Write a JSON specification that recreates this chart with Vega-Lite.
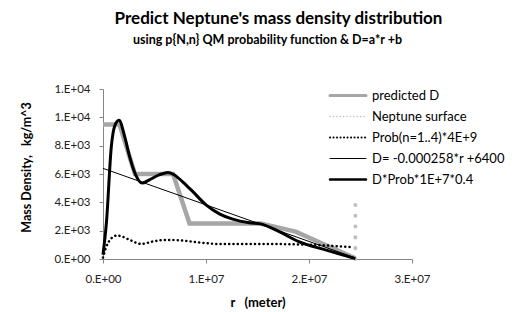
{
  "$schema": "https://vega.github.io/schema/vega-lite/v6.json",
  "width": 309,
  "height": 170,
  "autosize": "none",
  "padding": {"left": 103, "top": 89, "right": 110, "bottom": 53},
  "background": "white",
  "config": {
    "view": {"stroke": null},
    "font": "Lato"
  },
  "title": {
    "text": "Predict Neptune's mass density distribution",
    "subtitle": "using p{N,n} QM probability function & D=a*r +b",
    "font": "Lato",
    "fontSize": 17,
    "fontWeight": "bold",
    "color": "#000",
    "subtitleFont": "Lato",
    "subtitleFontSize": 12.5,
    "subtitleFontWeight": "bold",
    "subtitleColor": "#000",
    "subtitlePadding": 6,
    "anchor": "middle",
    "offset": 36,
    "dx": 21,
    "encode": {"subtitle": {"update": {"dx": {"value": 10}}}}
  },
  "data": {
    "values": [
      {"series": "predicted D", "k": 0, "r": 0, "D": 9500},
      {"series": "predicted D", "k": 1, "r": 1600000, "D": 9500},
      {"series": "predicted D", "k": 2, "r": 3100000, "D": 6000},
      {"series": "predicted D", "k": 3, "r": 6800000, "D": 6000},
      {"series": "predicted D", "k": 4, "r": 8400000, "D": 2500},
      {"series": "predicted D", "k": 5, "r": 15300000, "D": 2500},
      {"series": "predicted D", "k": 6, "r": 18700000, "D": 1930},
      {"series": "predicted D", "k": 7, "r": 21600000, "D": 990},
      {"series": "predicted D", "k": 8, "r": 24500000, "D": 50},

      {"series": "Neptune surface", "k": 0, "r": 24500000, "D": 0},
      {"series": "Neptune surface", "k": 1, "r": 24500000, "D": 3850},

      {"series": "Prob(n=1..4)*4E+9", "k": 0, "r": 0, "D": 100},
      {"series": "Prob(n=1..4)*4E+9", "k": 1, "r": 330000, "D": 870},
      {"series": "Prob(n=1..4)*4E+9", "k": 2, "r": 810000, "D": 1460},
      {"series": "Prob(n=1..4)*4E+9", "k": 3, "r": 1300000, "D": 1650},
      {"series": "Prob(n=1..4)*4E+9", "k": 4, "r": 1700000, "D": 1620},
      {"series": "Prob(n=1..4)*4E+9", "k": 5, "r": 2580000, "D": 1350},
      {"series": "Prob(n=1..4)*4E+9", "k": 6, "r": 3700000, "D": 1060},
      {"series": "Prob(n=1..4)*4E+9", "k": 7, "r": 4800000, "D": 1230},
      {"series": "Prob(n=1..4)*4E+9", "k": 8, "r": 6100000, "D": 1350},
      {"series": "Prob(n=1..4)*4E+9", "k": 9, "r": 7700000, "D": 1300},
      {"series": "Prob(n=1..4)*4E+9", "k": 10, "r": 9400000, "D": 1160},
      {"series": "Prob(n=1..4)*4E+9", "k": 11, "r": 11300000, "D": 1060},
      {"series": "Prob(n=1..4)*4E+9", "k": 12, "r": 15800000, "D": 1060},
      {"series": "Prob(n=1..4)*4E+9", "k": 13, "r": 20600000, "D": 990},
      {"series": "Prob(n=1..4)*4E+9", "k": 14, "r": 24200000, "D": 830},

      {"series": "D= -0.000258*r +6400", "k": 0, "r": 0, "D": 6400},
      {"series": "D= -0.000258*r +6400", "k": 1, "r": 24500000, "D": 79},

      {"series": "D*Prob*1E+7*0.4", "k": 0, "r": 0, "D": 300},
      {"series": "D*Prob*1E+7*0.4", "k": 1, "r": 330000, "D": 2550},
      {"series": "D*Prob*1E+7*0.4", "k": 2, "r": 810000, "D": 7950},
      {"series": "D*Prob*1E+7*0.4", "k": 3, "r": 1130000, "D": 9370},
      {"series": "D*Prob*1E+7*0.4", "k": 4, "r": 1550000, "D": 9790},
      {"series": "D*Prob*1E+7*0.4", "k": 5, "r": 2100000, "D": 8660},
      {"series": "D*Prob*1E+7*0.4", "k": 6, "r": 2580000, "D": 7240},
      {"series": "D*Prob*1E+7*0.4", "k": 7, "r": 3160000, "D": 5950},
      {"series": "D*Prob*1E+7*0.4", "k": 8, "r": 3800000, "D": 5360},
      {"series": "D*Prob*1E+7*0.4", "k": 9, "r": 4500000, "D": 5590},
      {"series": "D*Prob*1E+7*0.4", "k": 10, "r": 5500000, "D": 5950},
      {"series": "D*Prob*1E+7*0.4", "k": 11, "r": 6300000, "D": 6110},
      {"series": "D*Prob*1E+7*0.4", "k": 12, "r": 6900000, "D": 5950},
      {"series": "D*Prob*1E+7*0.4", "k": 13, "r": 7700000, "D": 5470},
      {"series": "D*Prob*1E+7*0.4", "k": 14, "r": 8700000, "D": 4770},
      {"series": "D*Prob*1E+7*0.4", "k": 15, "r": 10000000, "D": 3820},
      {"series": "D*Prob*1E+7*0.4", "k": 16, "r": 11300000, "D": 3190},
      {"series": "D*Prob*1E+7*0.4", "k": 17, "r": 12600000, "D": 2810},
      {"series": "D*Prob*1E+7*0.4", "k": 18, "r": 14200000, "D": 2560},
      {"series": "D*Prob*1E+7*0.4", "k": 19, "r": 15300000, "D": 2480},
      {"series": "D*Prob*1E+7*0.4", "k": 20, "r": 17100000, "D": 1930},
      {"series": "D*Prob*1E+7*0.4", "k": 21, "r": 19000000, "D": 1220},
      {"series": "D*Prob*1E+7*0.4", "k": 22, "r": 21600000, "D": 640},
      {"series": "D*Prob*1E+7*0.4", "k": 23, "r": 24500000, "D": 30}
    ]
  },
  "encoding": {
    "x": {
      "field": "r", "type": "quantitative",
      "scale": {"domain": [0, 30000000], "nice": false},
      "axis": {
        "values": [0, 10000000, 20000000, 30000000],
        "labelExpr": "replace(format(datum.value, '.0e'), 'e+', '.E+0')",
        "labelFlush": false,
        "grid": false,
        "domainColor": "#868686", "tickColor": "#868686", "tickSize": 4,
        "labelFont": "Lato", "labelFontSize": 11.5, "labelColor": "#222", "labelPadding": 10,
        "title": "r\u00a0\u00a0\u00a0(meter)", "titleFont": "Lato", "titleFontSize": 13, "titleFontWeight": "bold",
        "titleColor": "#000", "titlePadding": 12
      }
    },
    "y": {
      "field": "D", "type": "quantitative",
      "scale": {"domain": [0, 12000], "nice": false},
      "axis": {
        "values": [0, 2000, 4000, 6000, 8000, 10000, 12000],
        "labelExpr": "replace(format(datum.value, '.0e'), 'e+', '.E+0')",
        "labelFlush": false,
        "grid": false,
        "domainColor": "#868686", "tickColor": "#868686", "tickSize": 4,
        "labelFont": "Lato", "labelFontSize": 11.5, "labelColor": "#222", "labelPadding": 9,
        "title": "Mass Density,\u00a0\u00a0\u00a0kg/m^3", "titleFont": "Lato", "titleFontSize": 12.5, "titleFontWeight": "bold",
        "titleColor": "#000", "titlePadding": 20, "titleY": 78
      }
    },
    "order": {"field": "k", "type": "quantitative"},
    "color": {
      "field": "series", "type": "nominal",
      "scale": {
        "domain": ["predicted D", "Neptune surface", "Prob(n=1..4)*4E+9", "D= -0.000258*r +6400", "D*Prob*1E+7*0.4"],
        "range": ["#a6a6a6", "#bfbfbf", "#000000", "#000000", "#000000"]
      },
      "legend": {
        "orient": "none", "legendX": 238.5, "legendY": 0,
        "title": null, "padding": 0,
        "symbolType": "M-18,0H18", "symbolSize": 4,
        "labelOffset": 17.5, "labelFont": "Lato", "labelFontSize": 13, "labelColor": "#000",
        "rowPadding": 7,
        "encode": {"symbols": {"update": {
          "strokeCap": {"value": "round"},
          "strokeDash": {"signal": "datum.value == 'Neptune surface' ? [0.1, 3.3] : datum.value == 'Prob(n=1..4)*4E+9' ? [0.1, 3.4] : [1, 0]"},
          "strokeWidth": {"signal": "datum.value == 'Neptune surface' ? 1.5 : datum.value == 'Prob(n=1..4)*4E+9' ? 2 : datum.value == 'predicted D' ? 3 : datum.value == 'D= -0.000258*r +6400' ? 1 : 2.5"}
        }}}
      }
    }
  },
  "layer": [
    {"transform": [{"filter": "datum.series == 'predicted D'"}], "mark": {"type": "line", "strokeJoin": "miter", "strokeWidth": 4.5}},
    {"transform": [{"filter": "datum.series == 'Neptune surface'"}], "mark": {"type": "line", "strokeCap": "round", "strokeWidth": 4, "strokeDash": [0.1, 10.7]}},
    {"transform": [{"filter": "datum.series == 'Prob(n=1..4)*4E+9'"}], "mark": {"type": "line", "strokeCap": "round", "interpolate": "monotone", "strokeWidth": 2.5, "strokeDash": [0.1, 4.2]}},
    {"transform": [{"filter": "datum.series == 'D= -0.000258*r +6400'"}], "mark": {"type": "line", "strokeWidth": 1}},
    {"transform": [{"filter": "datum.series == 'D*Prob*1E+7*0.4'"}], "mark": {"type": "line", "interpolate": "monotone", "strokeJoin": "round", "strokeWidth": 3}}
  ]
}
